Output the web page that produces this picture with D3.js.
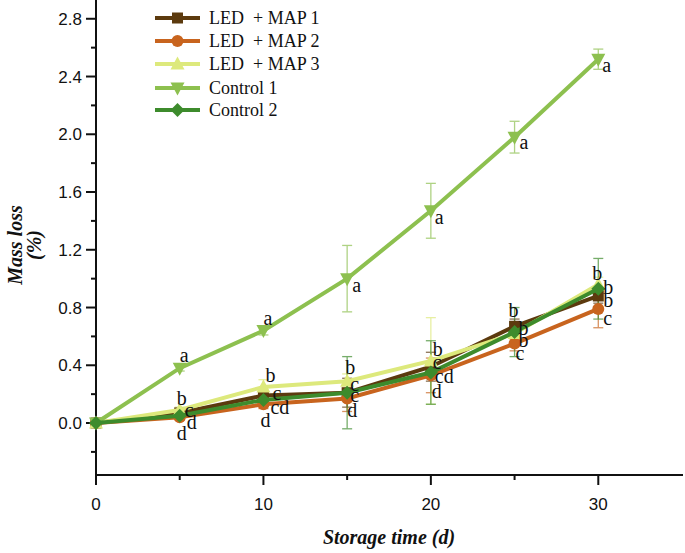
<!DOCTYPE html>
<html><head><meta charset="utf-8">
<script src="https://cdn.jsdelivr.net/npm/d3@7"></script>
<style>body{margin:0;background:#fff}svg{display:block}</style>
</head><body><div id="chart"></div>
<script>
const days = [0, 5, 10, 15, 20, 25, 30];
const seriesNames = ["LED  + MAP 1", "LED  + MAP 2", "LED  + MAP 3", "Control 1", "Control 2"];
const map1 = [0, 0.07, 0.19, 0.21, 0.39, 0.67, 0.88];
const map2 = [0, 0.04, 0.13, 0.17, 0.33, 0.55, 0.79];
const map3 = [0, 0.09, 0.25, 0.29, 0.43, 0.62, 0.96];
const control1 = [0, 0.38, 0.64, 1.00, 1.47, 1.98, 2.52];
const control2 = [0, 0.05, 0.16, 0.21, 0.35, 0.63, 0.93];
const map1Err = [0, 0.02, 0.03, 0.10, 0.10, 0.05, 0.05];
const map2Err = [0, 0.02, 0.03, 0.09, 0.12, 0.05, 0.13];
const map3Err = [0, 0.02, 0.05, 0.05, 0.30, 0.08, 0.05];
const control1Err = [0, 0.02, 0.03, 0.23, 0.19, 0.11, 0.07];
const control2Err = [0, 0.02, 0.03, 0.25, 0.22, 0.17, 0.21];
const map1Letters = ["", "c", "c", "c", "c", "b", "b"];
const map2Letters = ["", "d", "d", "d", "d", "c", "c"];
const map3Letters = ["", "b", "b", "b", "b", "b", "b"];
const control1Letters = ["", "a", "a", "a", "a", "a", "a"];
const control2Letters = ["", "d", "cd", "c", "cd", "b", "b"];
const yTicks = [0, 0.4, 0.8, 1.2, 1.6, 2.0, 2.4, 2.8];
const yMinor = [-0.2, 0.2, 0.6, 1.0, 1.4, 1.8, 2.2, 2.6];
const xTicks = [0, 10, 20, 30];
const xMinor = [5, 15, 25];

// label offsets (pixels) relative to each point
const labelOffsets = [
  [[0,0],[5,-3],[9,-3],[3,-9],[2,-5],[-6,-16],[5,4]],
  [[0,0],[-3,16],[-3,16],[0,12],[1,16],[1,9],[5,9]],
  [[0,0],[-3,-12],[2,-12],[-2,-14],[2,-12],[4,6],[-6,-11]],
  [[0,0],[0,-13],[0,-13],[5,6],[4,6],[5,5],[4,6]],
  [[0,0],[7,6],[7,7],[3,2],[4,4],[4,-4],[5,-2]]
];

const W = 685, H = 553;
const svg = d3.select("#chart").append("svg").attr("width", W).attr("height", H);
const x = d3.scaleLinear().domain([0, 35]).range([96, 682]);
const y = d3.scaleLinear().domain([-0.36, 2.93]).range([475, 0]);

const colors = ["#5c3a0e", "#c8641e", "#dde97c", "#8dc04f", "#3d8b2c"];
const symbols = ["square", "circle", "triUp", "triDown", "diamond"];
const values = [map1, map2, map3, control1, control2];
const errs = [map1Err, map2Err, map3Err, control1Err, control2Err];
const letters = [map1Letters, map2Letters, map3Letters, control1Letters, control2Letters];

function drawSymbol(g, type, cx, cy, color) {
  if (type === "square") {
    g.append("rect").attr("x", cx - 5.5).attr("y", cy - 5.5).attr("width", 11).attr("height", 11).attr("fill", color);
  } else if (type === "circle") {
    g.append("circle").attr("cx", cx).attr("cy", cy).attr("r", 6).attr("fill", color);
  } else if (type === "triUp") {
    g.append("path").attr("d", `M${cx},${cy-7.5}L${cx+7},${cy+5.5}L${cx-7},${cy+5.5}Z`).attr("fill", color);
  } else if (type === "triDown") {
    g.append("path").attr("d", `M${cx},${cy+7.5}L${cx+7},${cy-5.5}L${cx-7},${cy-5.5}Z`).attr("fill", color);
  } else {
    g.append("path").attr("d", `M${cx},${cy-7}L${cx+7},${cy}L${cx},${cy+7}L${cx-7},${cy}Z`).attr("fill", color);
  }
}

// axes
const axG = svg.append("g").attr("stroke", "#111").attr("stroke-width", 2);
axG.append("line").attr("x1", 96).attr("x2", 96).attr("y1", 475).attr("y2", 0);
axG.append("line").attr("x1", 96).attr("x2", 683).attr("y1", 475).attr("y2", 475);
yTicks.forEach(t => axG.append("line").attr("x1", 86).attr("x2", 96).attr("y1", y(t)).attr("y2", y(t)));
yMinor.forEach(t => axG.append("line").attr("x1", 91).attr("x2", 96).attr("y1", y(t)).attr("y2", y(t)));
xTicks.forEach(t => axG.append("line").attr("x1", x(t)).attr("x2", x(t)).attr("y1", 475).attr("y2", 485));
xMinor.forEach(t => axG.append("line").attr("x1", x(t)).attr("x2", x(t)).attr("y1", 475).attr("y2", 480));

svg.append("g").selectAll("text").data(yTicks).join("text")
  .attr("x", 82).attr("y", d => y(d)).attr("dy", "0.36em").attr("text-anchor", "end")
  .attr("font-family", "Liberation Sans, Arial, sans-serif").attr("font-size", 17).attr("fill", "#111")
  .text(d => d3.format(".1f")(d));
svg.append("g").selectAll("text").data(xTicks).join("text")
  .attr("x", d => x(d)).attr("y", 510).attr("text-anchor", "middle")
  .attr("font-family", "Liberation Sans, Arial, sans-serif").attr("font-size", 17).attr("fill", "#111")
  .text(d => d);

// titles
svg.append("text").attr("x", 389).attr("y", 544).attr("text-anchor", "middle")
  .attr("font-family", "Liberation Serif, Times New Roman, serif").attr("font-weight", "bold").attr("font-style", "italic")
  .attr("font-size", 20).attr("fill", "#111").text("Storage time (d)");
svg.append("text").attr("transform", "translate(22,245) rotate(-90)").attr("text-anchor", "middle")
  .attr("font-family", "Liberation Serif, Times New Roman, serif").attr("font-weight", "bold").attr("font-style", "italic")
  .attr("font-size", 20).attr("fill", "#111").text("Mass loss");
svg.append("text").attr("transform", "translate(41,245) rotate(-90)").attr("text-anchor", "middle")
  .attr("font-family", "Liberation Serif, Times New Roman, serif").attr("font-weight", "bold").attr("font-style", "italic")
  .attr("font-size", 20).attr("fill", "#111").text("(%)");

// error bars
const eg = svg.append("g");
values.forEach((vals, si) => {
  vals.forEach((v, i) => {
    const e = errs[si][i];
    if (!e) return;
    const cx = x(days[i]);
    const c = colors[si];
    const g = eg.append("g").attr("stroke", c).attr("stroke-width", 1.3).attr("opacity", 0.7);
    g.append("line").attr("x1", cx).attr("x2", cx).attr("y1", y(v + e)).attr("y2", y(v - e));
    g.append("line").attr("x1", cx - 5).attr("x2", cx + 5).attr("y1", y(v + e)).attr("y2", y(v + e));
    g.append("line").attr("x1", cx - 5).attr("x2", cx + 5).attr("y1", y(v - e)).attr("y2", y(v - e));
  });
});

// lines + markers
const line = d3.line().x((d, i) => x(days[i])).y(d => y(d));
values.forEach((vals, si) => {
  const g = svg.append("g");
  g.append("path").attr("d", line(vals)).attr("fill", "none").attr("stroke", colors[si]).attr("stroke-width", 4);
  vals.forEach((v, i) => drawSymbol(g, symbols[si], x(days[i]), y(v), colors[si]));
});

// letters
const lg = svg.append("g").attr("font-family", "Liberation Serif, Times New Roman, serif").attr("font-size", 20).attr("fill", "#111");
values.forEach((vals, si) => {
  vals.forEach((v, i) => {
    const l = letters[si][i];
    if (!l) return;
    const off = labelOffsets[si][i];
    lg.append("text").attr("x", x(days[i]) + off[0]).attr("y", y(v) + off[1]).attr("dy", "0.35em").text(l);
  });
});

// legend
const leg = svg.append("g");
seriesNames.forEach((name, si) => {
  const ly = [18, 41, 64, 88, 110][si];
  leg.append("line").attr("x1", 155).attr("x2", 200).attr("y1", ly).attr("y2", ly).attr("stroke", colors[si]).attr("stroke-width", 4);
  drawSymbol(leg, symbols[si], 177.5, ly, colors[si]);
  leg.append("text").attr("x", 209).attr("y", ly).attr("dy", "0.35em")
    .attr("font-family", "Liberation Serif, Times New Roman, serif").attr("font-size", 18).attr("fill", "#111")
    .style("white-space", "pre").text(name);
});
</script></body></html>
